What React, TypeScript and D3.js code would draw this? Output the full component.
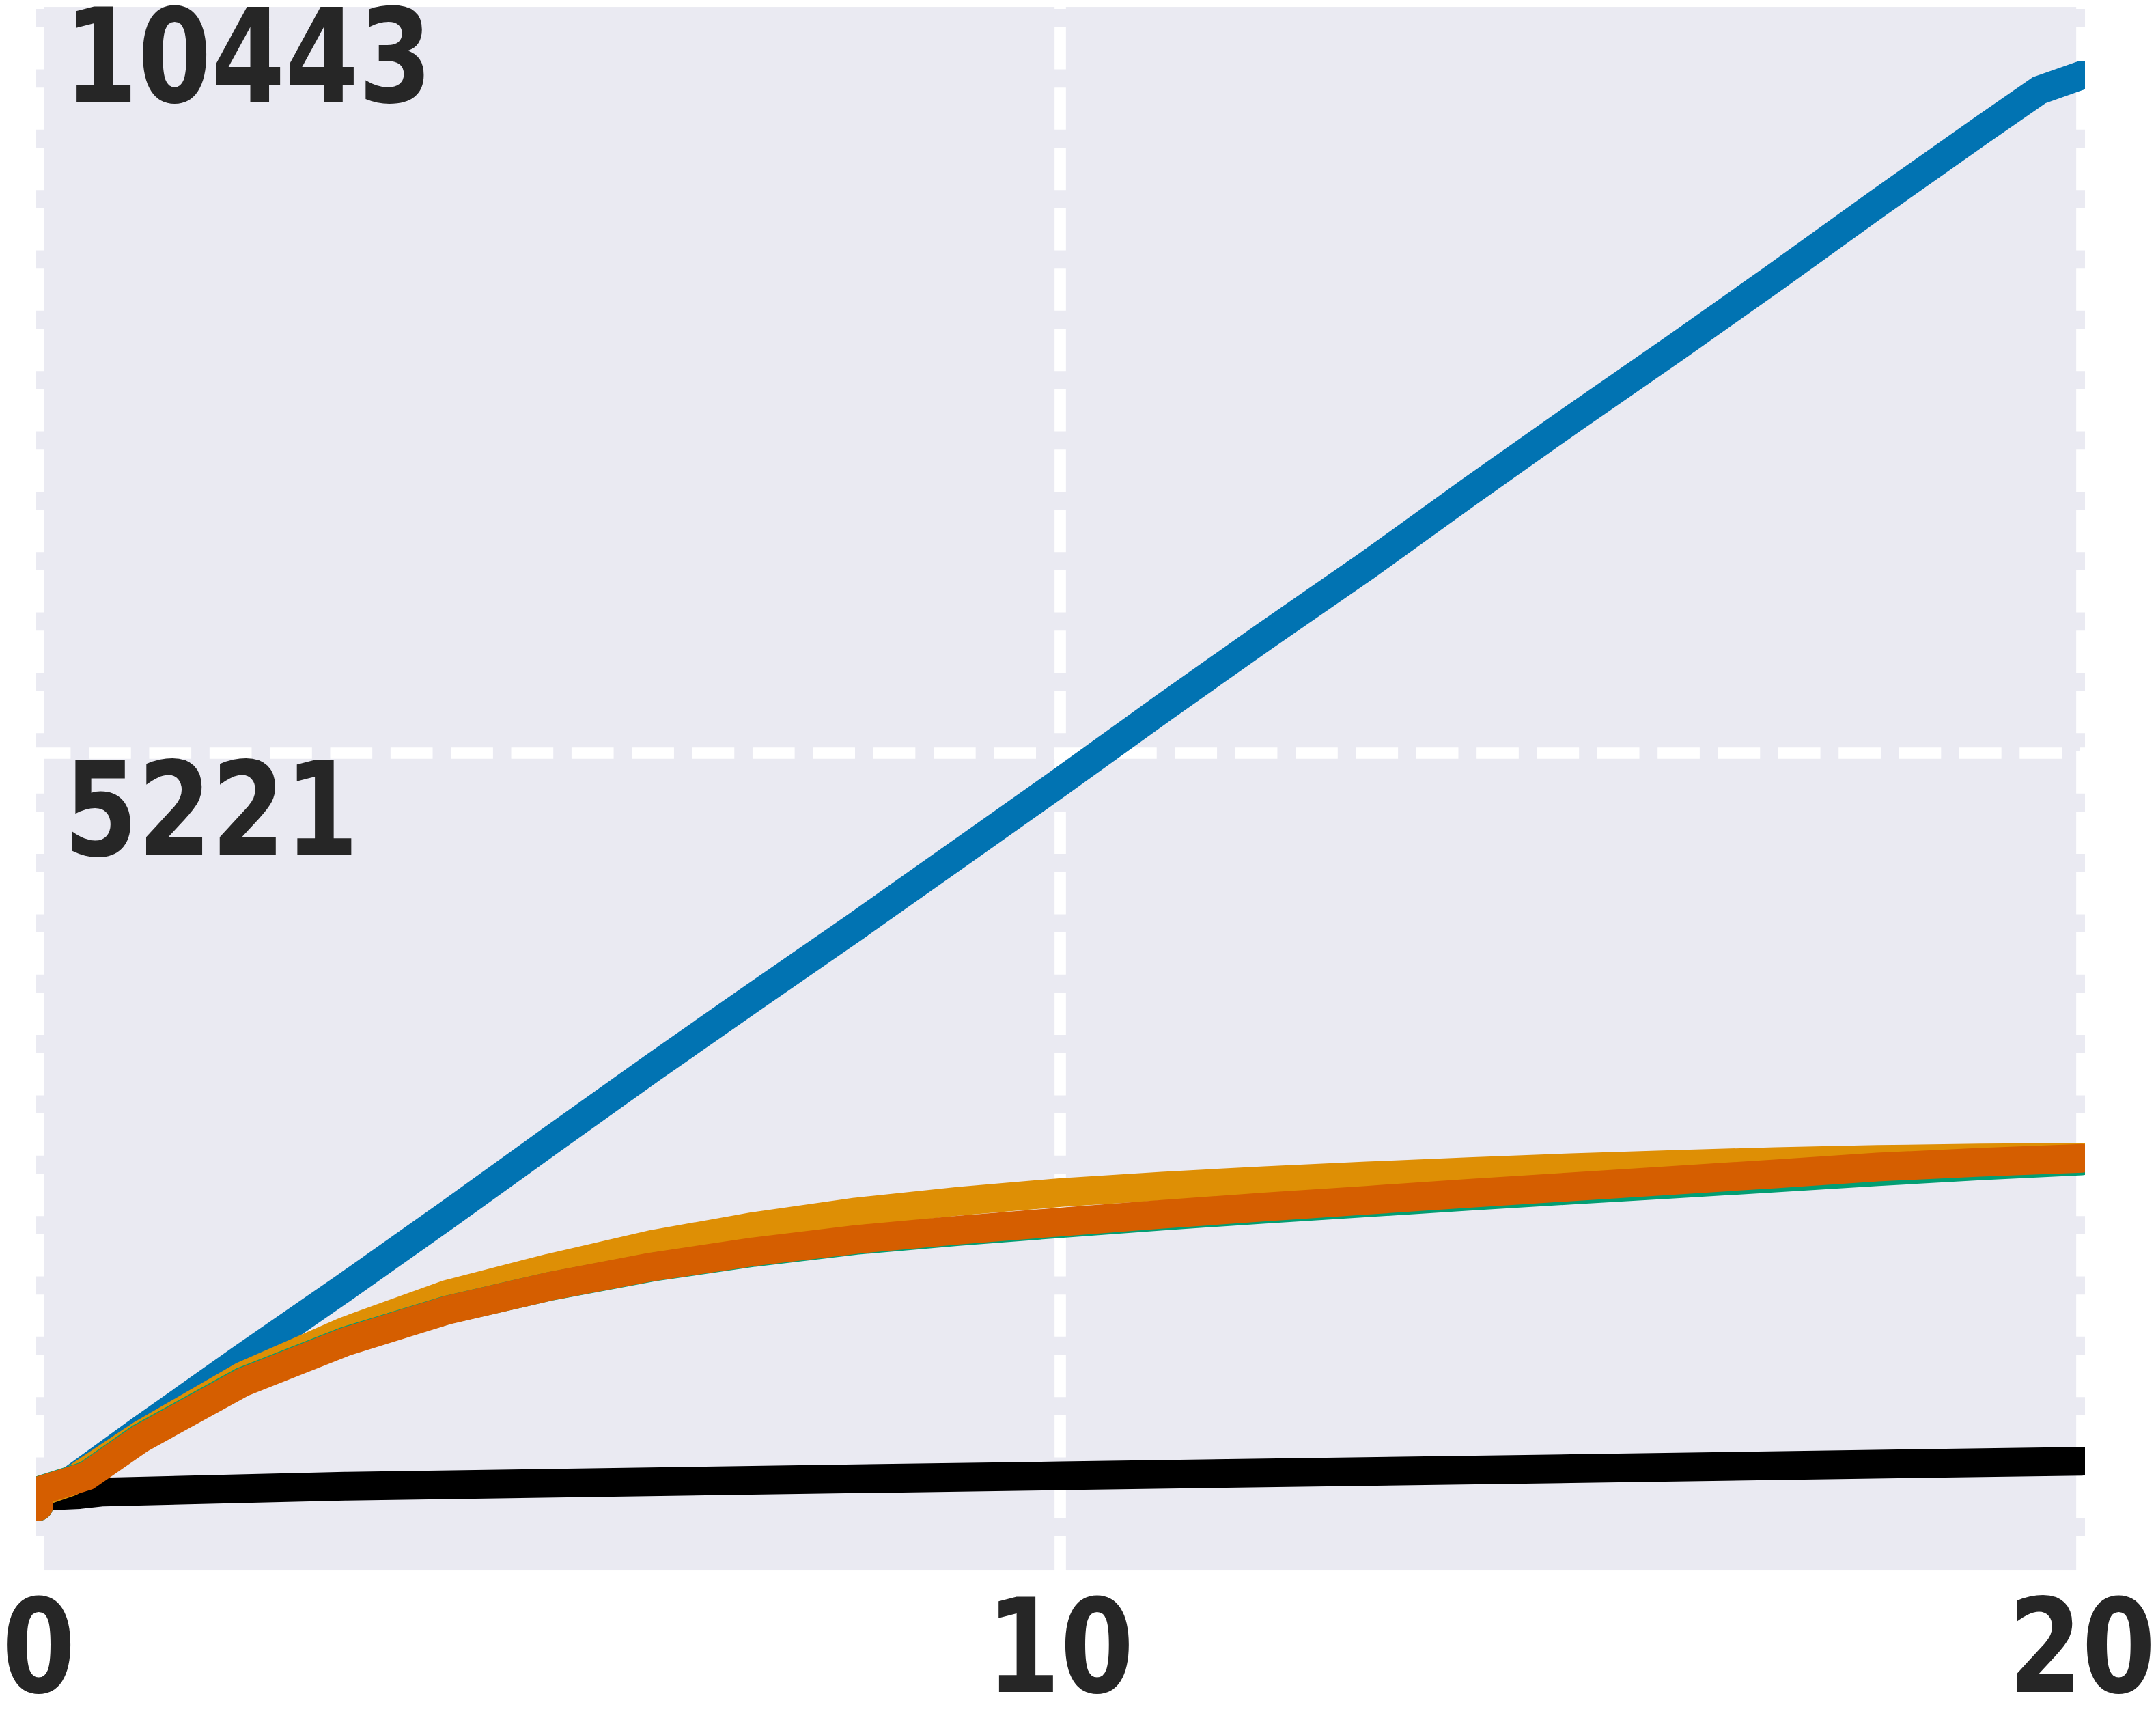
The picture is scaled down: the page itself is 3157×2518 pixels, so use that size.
import React from 'react';
import * as d3 from 'd3';

const W = 3157;
const H = 2518;

// axis ticks
const xTicks = [0, 10, 20];
const yTicks = [5221, 10443];
const yLabels = ['5221', '10443'];

// view limits of the axes box
const xLim = [-0.03, 20.03];
const yLim = [-444, 10393];

// black line
const blackX = [0, 0.02, 0.4, 0.63, 3, 10, 15, 20];
const blackY = [0, 70, 82, 100, 140, 212, 262, 313];

// blue line
const blueX = [0, 0.01, 0.31, 1, 2, 3, 4, 5, 6, 7, 8, 9, 10, 11, 12, 13, 14, 15, 16, 17, 18, 19, 19.58, 20];
const blueY = [0, 96, 176, 530, 1030, 1520, 2020, 2530, 3035, 3530, 4020, 4520, 5020, 5530, 6030, 6520, 7030, 7530, 8020, 8520, 9030, 9530, 9815, 9920];

// orange line
const orangeX = [0, 0.01, 0.31, 1, 2, 3, 4, 5, 6, 7, 8, 9, 10, 11, 12, 13, 14, 15, 16, 17, 18, 19, 20];
const orangeY = [0, 96, 170, 495, 905, 1215, 1470, 1652, 1815, 1940, 2040, 2115, 2175, 2220, 2258, 2290, 2320, 2347, 2370, 2390, 2405, 2415, 2420];

// green and vermillion lines
const redX = [0, 0.01, 0.47, 1, 2, 3, 4, 5, 6, 7, 8, 9, 10, 11, 12, 13, 14, 15, 16, 17, 18, 19, 20];
const greenY = [0, 112, 216, 478, 868, 1146, 1362, 1524, 1657, 1760, 1844, 1906, 1960, 2012, 2060, 2104, 2150, 2192, 2234, 2276, 2320, 2360, 2395];
const redY = [0, 110, 210, 470, 860, 1140, 1360, 1525, 1660, 1765, 1850, 1915, 1971, 2025, 2075, 2122, 2170, 2215, 2260, 2305, 2352, 2385, 2412];

const series = [
  { xs: blackX, ys: blackY, color: '#000000' },
  { xs: blueX, ys: blueY, color: '#0173B2' },
  { xs: orangeX, ys: orangeY, color: '#DE8F05' },
  { xs: redX, ys: greenY, color: '#029E73' },
  { xs: redX, ys: redY, color: '#D55E00' },
];

const x = d3.scaleLinear().domain([0, 20]).range([56.5, 3048.5]);
const y = d3.scaleLinear().domain([0, 10443]).range([2205.3, -0.5]);

const lw = 16.67; // grid line width
const dash = `${3.7 * lw} ${1.6 * lw}`;
const textColor = '#262626';
const squeeze = 0.815;

export default function App() {
  const left = x(xLim[0]);
  const right = x(xLim[1]);
  const top = y(yLim[1]);
  const bottom = y(yLim[0]);

  const line = d3
    .line<[number, number]>()
    .x((d) => x(d[0]))
    .y((d) => y(d[1]));

  return (
    <svg
      width={W}
      height={H}
      style={{ position: 'absolute', left: 0, top: 0, background: '#fff' }}
    >
      <defs>
        <clipPath id="axes">
          <rect x={left} y={top} width={right - left} height={bottom - top} />
        </clipPath>
      </defs>
      <rect x={left} y={top} width={right - left} height={bottom - top} fill="#EAEAF2" />

      {/* grid */}
      {xTicks.map((t) => (
        <line
          key={'gx' + t}
          x1={x(t)}
          x2={x(t)}
          y1={top + 29.7 - 88.33}
          y2={bottom + 30}
          stroke="#fff"
          strokeWidth={lw}
          strokeDasharray={dash}
        />
      ))}
      {yTicks.map((t) => (
        <line
          key={'gy' + t}
          x1={left - 10.3 - 88.33}
          x2={right + 50}
          y1={y(t)}
          y2={y(t)}
          stroke="#fff"
          strokeWidth={lw}
          strokeDasharray={dash}
        />
      ))}

      <g clipPath="url(#axes)">
        {series.map((s, i) => (
          <path
            key={i}
            d={line(s.xs.map((v, j) => [v, s.ys[j]] as [number, number])) || ''}
            fill="none"
            stroke={s.color}
            strokeWidth={42}
            strokeLinecap="round"
            strokeLinejoin="round"
          />
        ))}
      </g>

      <g
        fill={textColor}
        fontFamily="'DejaVu Sans', sans-serif"
        fontWeight="bold"
        fontSize={190}
      >
        {yTicks.map((t, i) => (
          <text
            key={'yl' + t}
            transform={`translate(94,${y(t) + 149.5}) scale(${squeeze},1)`}
          >
            {yLabels[i]}
          </text>
        ))}
        {xTicks.map((t) => (
          <text
            key={'xl' + t}
            textAnchor="middle"
            transform={`translate(${x(t)},2477) scale(${squeeze},1)`}
          >
            {t}
          </text>
        ))}
      </g>
    </svg>
  );
}
